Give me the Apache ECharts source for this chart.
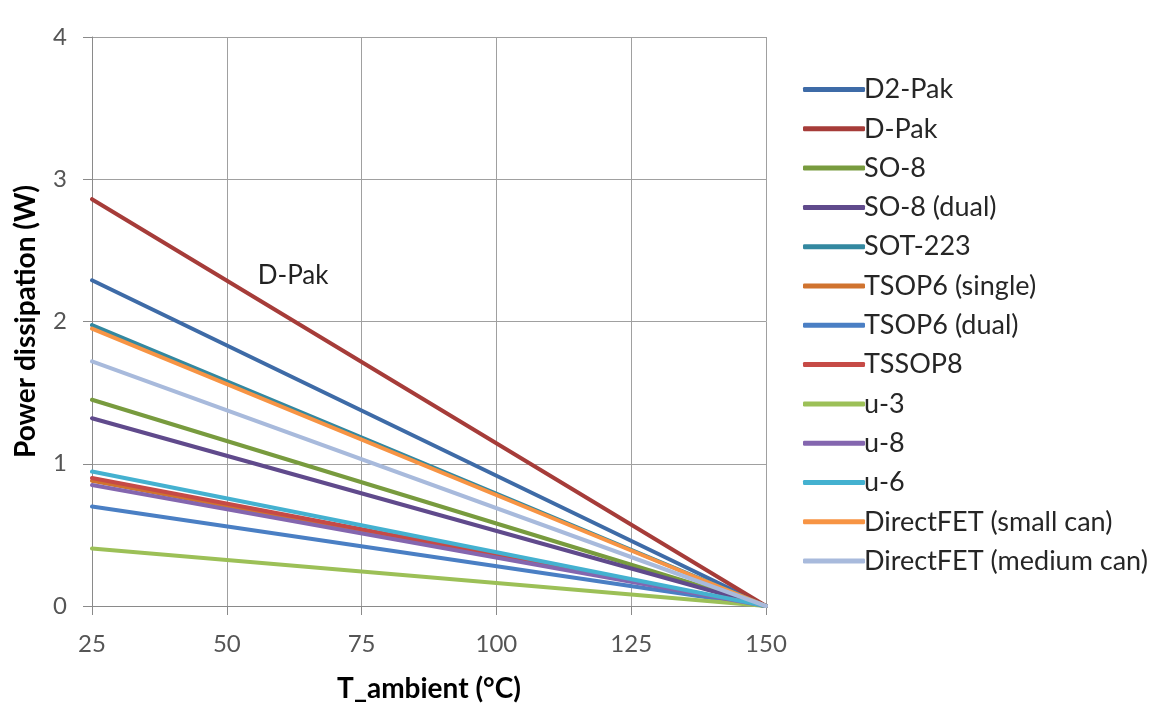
<!DOCTYPE html>
<html>
<head>
<meta charset="utf-8">
<script src="https://cdn.jsdelivr.net/npm/echarts@6/dist/echarts.min.js"></script>
<style>html,body{margin:0;padding:0;background:#fff}#c{width:1161px;height:708px}</style>
</head>
<body>
<div id="c"></div>
<script>
// Temperatures (°C) at which each curve is sampled
const temps = [25, 150];
// Power dissipation (W) at 25 °C and 150 °C
const names = ["D2-Pak","D-Pak","SO-8","SO-8 (dual)","SOT-223","TSOP6 (single)","TSOP6 (dual)","TSSOP8","u-3","u-8","u-6","DirectFET (small can)","DirectFET (medium can)"];
const d2pak = [2.29, 0];
const dpak = [2.86, 0];
const so8 = [1.45, 0];
const so8dual = [1.32, 0];
const sot223 = [1.975, 0];
const tsop6single = [0.88, 0];
const tsop6dual = [0.70, 0];
const tssop8 = [0.90, 0];
const u3 = [0.405, 0];
const u8 = [0.85, 0];
const u6 = [0.945, 0];
const directSmall = [1.95, 0];
const directMedium = [1.72, 0];
const values = [d2pak, dpak, so8, so8dual, sot223, tsop6single, tsop6dual, tssop8, u3, u8, u6, directSmall, directMedium];
const colors = ["#3E6BA7","#A63C39","#789B3E","#604A8C","#3388A0","#D0732F","#4A7FC4","#C64A46","#9CC057","#8466AF","#44B1D0","#F79444","#A8BADC"];
const xTicks = [25, 50, 75, 100, 125, 150];
const yTicks = [0, 1, 2, 3, 4];
const annotation = {text: "D-Pak", x: 62.3, y: 2.32};

const font = "Lato, 'Open Sans', sans-serif";
const series = names.map((n, i) => ({
  name: n,
  type: 'line',
  symbol: 'none',
  data: temps.map((t, j) => [t, values[i][j]]),
  lineStyle: {width: 4, color: colors[i], cap: 'round'},
  itemStyle: {color: colors[i]},
  emphasis: {disabled: true},
  z: 2
}));
series[1].markPoint = {
  symbol: 'circle', symbolSize: 0, silent: true,
  data: [{coord: [annotation.x, annotation.y], value: annotation.text}],
  label: {show: true, position: 'inside', formatter: annotation.text, color: '#222', fontSize: 26, fontFamily: font}
};

const chart = echarts.init(document.getElementById('c'), null, {renderer: 'canvas'});
chart.setOption({
  animation: false,
  backgroundColor: '#fff',
  grid: {left: 92, right: 395, top: 37, bottom: 101},
  legend: {
    orient: 'vertical', left: 798, top: 71,
    icon: 'roundRect', itemWidth: 62, itemHeight: 5, itemGap: 12.3,
    textStyle: {fontSize: 27, fontFamily: font, color: '#262626', height: 27, lineHeight: 27, padding: [0, 0, 0, -6]},
    data: names
  },
  xAxis: {
    type: 'value', min: 25, max: 150, interval: 25,
    name: 'T_ambient (°C)', nameLocation: 'middle', nameGap: 69,
    nameTextStyle: {fontSize: 28, fontWeight: 'bold', fontFamily: font, color: '#000'},
    axisLine: {show: true, lineStyle: {color: '#8a8a8a', width: 1}},
    axisTick: {show: true, length: 9, lineStyle: {color: '#8a8a8a'}},
    axisLabel: {fontSize: 24, fontFamily: font, color: '#555', margin: 26,
      formatter: v => xTicks.includes(v) ? String(v) : ''},
    splitLine: {show: true, lineStyle: {color: '#a0a0a0', width: 1}}
  },
  yAxis: {
    type: 'value', min: 0, max: 4, interval: 1,
    name: 'Power dissipation (W)', nameLocation: 'middle', nameGap: 52, nameRotate: 90,
    nameTextStyle: {fontSize: 28, fontWeight: 'bold', fontFamily: font, color: '#000'},
    axisLine: {show: true, lineStyle: {color: '#8a8a8a', width: 1}},
    axisTick: {show: true, length: 9, lineStyle: {color: '#8a8a8a'}},
    axisLabel: {fontSize: 24, fontFamily: font, color: '#555', margin: 25,
      formatter: v => yTicks.includes(v) ? String(v) : ''},
    splitLine: {show: true, lineStyle: {color: '#a0a0a0', width: 1}}
  },
  series: series
});
</script>
</body>
</html>
